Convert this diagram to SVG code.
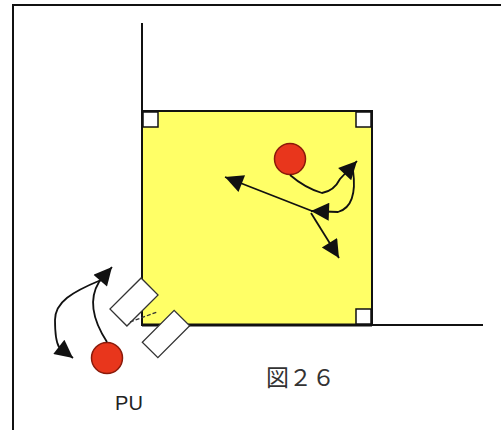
<svg xmlns="http://www.w3.org/2000/svg" width="501" height="430" viewBox="0 0 501 430">
<defs>
<style>
.wall{stroke:#111;stroke-width:2;fill:none}
.corner{fill:#fff;stroke:#111;stroke-width:1.5}
.ball{fill:#e8361c;stroke:#8a1a0a;stroke-width:1.5}
.plank{fill:#fff;stroke:#333;stroke-width:1.3}
.arr{fill:none;stroke:#111;stroke-width:1.8;marker-end:url(#ah)}
.lbl{font-family:"Liberation Sans",Arial,sans-serif;fill:#222}
.fig{font-family:"Liberation Serif","Noto Sans CJK JP",serif;fill:#333}
</style>
<marker id="ah" viewBox="0 0 10 10" refX="10" refY="5" markerWidth="21" markerHeight="18" markerUnits="userSpaceOnUse" orient="auto">
<path d="M0,0 L10,5 L0,10 Z" fill="#111"/>
</marker>
</defs>
<rect width="501" height="430" fill="#fff"/>
<g id="frame">
<path class="wall" d="M13,430 V5 H501"/>
</g>
<g id="walls">
<path class="wall" d="M142,23 V325"/>
<path class="wall" d="M142,325 H483"/>
</g>
<g id="court">
<rect x="142" y="111" width="230" height="214" fill="#ffff66" stroke="#111" stroke-width="2"/>
<path d="M142,325 H372" stroke="#111" stroke-width="3"/>
<rect class="corner" x="143" y="112" width="15" height="15"/>
<rect class="corner" x="356" y="112" width="15" height="15"/>
<rect class="corner" x="356" y="309" width="15" height="15"/>
</g>
<g id="ball-court">
<circle class="ball" cx="290" cy="159" r="15.5"/>
</g>
<g id="ball-pu">
<circle class="ball" cx="107" cy="358" r="15.5"/>
</g>
<g id="plank1">
<rect class="plank" x="-12" y="-22" width="24" height="44" transform="translate(134,302) rotate(45)"/>
</g>
<g id="plank2">
<rect class="plank" x="-11" y="-22.5" width="22" height="45" transform="translate(166,334) rotate(45)"/>
</g>
<g id="label-pu">
<text class="lbl" x="129" y="410" font-size="20" text-anchor="middle">PU</text>
</g>
<g id="label-fig">
<text class="fig" x="266" y="386" font-size="23">図２６</text>
</g>
<g id="connectors">
<path class="arr" d="M290,175 Q305,188 322,193 Q334,191 340,179 L357,161"/>
<path class="arr" d="M353,170 C356,192 352,208 338,212 L311,211"/>
<path class="arr" d="M312,211 L225,177"/>
<path class="arr" d="M311,213 L339,258"/>
<path class="arr" d="M107,342 C94,322 88,300 99,282 L112,267"/>
<path class="arr" d="M101,280 C72,292 55,302 55,320 C55,333 56,342 59,347 L73,358"/>
<path d="M130,322 L157,312" stroke="#333" stroke-width="1.3" stroke-dasharray="4,2" fill="none"/>
</g>
</svg>
